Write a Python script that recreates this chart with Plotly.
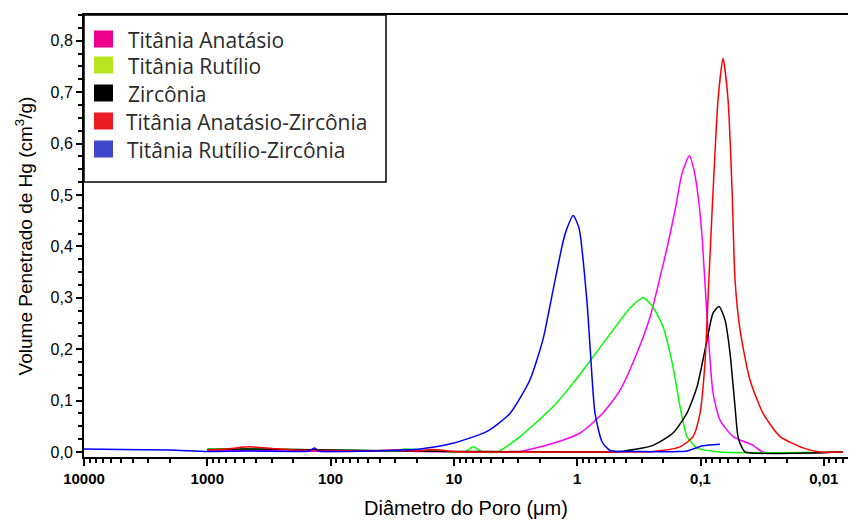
import plotly.graph_objects as go

# ---------------- data (diameter in µm, volume in cm3/g) ----------------
anat_d = [1000, 500, 200, 100, 50, 30, 20, 10, 4.47, 2.91, 1.57, 0.948, 0.618, 0.45, 0.327,
          0.257, 0.2104, 0.1836, 0.158, 0.142, 0.1233, 0.1122, 0.1022, 0.0967, 0.0931, 0.0881,
          0.0792, 0.0695, 0.0544, 0.0375, 0.0311, 0.007]
anat_v = [0.002, 0.003, 0.002, 0.001, 0.002, 0.003, 0.001, 0.0, 0.0, 0.001, 0.017, 0.037, 0.076,
          0.12, 0.193, 0.262, 0.345, 0.405, 0.48, 0.54, 0.576, 0.545, 0.477, 0.412, 0.348,
          0.257, 0.115, 0.062, 0.03, 0.013, 0.0, 0.0]

rut_d = [1000, 500, 200, 100, 50, 30, 25, 18.8, 15, 8, 7.0, 6.0, 4.47, 2.91, 1.57, 1.08, 0.745,
         0.513, 0.373, 0.292, 0.243, 0.201, 0.167, 0.1466, 0.1286, 0.1067, 0.0695, 0.007]
rut_v = [0.006, 0.006, 0.005, 0.004, 0.003, 0.002, 0.006, 0.004, 0.002, 0.001, 0.01, 0.001, 0.0,
         0.03, 0.088, 0.134, 0.185, 0.237, 0.28, 0.30, 0.282, 0.243, 0.165, 0.088, 0.03, 0.008,
         0.0, 0.0]

zirc_d = [1000, 500, 200, 100, 50, 20, 10, 5, 1, 0.45, 0.243, 0.167, 0.1286, 0.1067, 0.0885,
          0.0792, 0.0708, 0.0633, 0.0577, 0.0525, 0.0497, 0.046, 0.0435, 0.007]
zirc_v = [0.005, 0.006, 0.005, 0.004, 0.003, 0.002, 0.001, 0.001, 0.0, 0.001, 0.013, 0.037, 0.076,
          0.127, 0.218, 0.27, 0.283, 0.257, 0.193, 0.088, 0.03, 0.008, 0.0, 0.0]

anz_d = [1000, 700, 451, 300, 200, 100, 50, 30, 20, 15, 10, 5, 1, 0.243, 0.1466, 0.115, 0.101,
         0.092, 0.0869, 0.0807, 0.0721, 0.0657, 0.0598, 0.0555, 0.0525, 0.0478, 0.0397, 0.0311,
         0.0226, 0.01475, 0.01074, 0.007]
anz_v = [0.004, 0.006, 0.01, 0.007, 0.004, 0.003, 0.002, 0.004, 0.002, 0.005, 0.001, 0.0, 0.0,
         0.001, 0.01, 0.03, 0.075, 0.173, 0.30, 0.465, 0.685, 0.766, 0.685, 0.51, 0.335, 0.237,
         0.14, 0.075, 0.03, 0.008, 0.0, 0.0]

rz_d = [10000, 5000, 2000, 1000, 500, 200, 150, 135, 125, 100, 50, 18.8, 10.2, 5.39, 3.51, 2.42,
        1.89, 1.57, 1.30, 1.21, 1.08, 0.966, 0.832, 0.787, 0.717, 0.629, 0.542, 0.3, 0.15,
        0.1286, 0.0955, 0.0695]
rz_v = [0.006, 0.005, 0.004, 0.001, 0.002, 0.001, 0.002, 0.008, 0.002, 0.001, 0.002, 0.006, 0.017,
        0.04, 0.075, 0.14, 0.22, 0.315, 0.41, 0.435, 0.46, 0.435, 0.29, 0.205, 0.075, 0.02, 0.003,
        0.001, 0.001, 0.002, 0.012, 0.015]

names = ["Titânia Anatásio", "Titânia Rutílio", "Zircônia",
         "Titânia Anatásio-Zircônia", "Titânia Rutílio-Zircônia"]
line_colors = ["#ff00ff", "#00ff00", "#000000", "#ff0000", "#0000ff"]
legend_colors = ["#ec008c", "#b8e31f", "#000000", "#ed1c24", "#3f48cc"]
series = [(anat_d, anat_v), (rut_d, rut_v), (zirc_d, zirc_v), (anz_d, anz_v), (rz_d, rz_v)]

# plot-area geometry (pixels) used to place the hand-drawn legend box
L, T, W, H = 84, 15, 764, 442


def px(x):
    return (x - L) / W


def py(y):
    return (T + H - y) / H


fig = go.Figure()
for (d, v), c, n in zip(series, line_colors, names):
    fig.add_trace(go.Scatter(x=d, y=v, mode="lines", name=n,
                             line=dict(color=c, width=1.5, shape="spline", smoothing=0.6),
                             showlegend=False))

shapes = [dict(type="rect", xref="paper", yref="paper", x0=0, x1=px(386), y0=py(182), y1=1,
               fillcolor="white", line=dict(color="black", width=1.5), layer="above")]
annotations = []
row_y = [39, 65, 93, 121, 149]
text_x = [126, 126, 126, 124, 125]
for n, c, ry, tx in zip(names, legend_colors, row_y, text_x):
    shapes.append(dict(type="rect", xref="paper", yref="paper", x0=px(94), x1=px(113),
                       y0=py(ry + 8.5), y1=py(ry - 8.5), fillcolor=c, line=dict(width=0),
                       layer="above"))
    annotations.append(dict(xref="paper", yref="paper", x=px(tx), y=py(ry + 1), text=n,
                            showarrow=False, xanchor="left", yanchor="middle",
                            font=dict(family="Open Sans", size=21, color="#2b2b2b")))

fig.update_layout(
    width=850, height=520,
    margin=dict(l=L, r=850 - L - W, t=T, b=520 - T - H),
    plot_bgcolor="white", paper_bgcolor="white",
    separators=", ",
    font=dict(family="Liberation Sans, Arial", color="black"),
    showlegend=False,
    shapes=shapes, annotations=annotations,
)
fig.update_xaxes(
    type="log", range=[4, -2.196], tickmode="linear", tick0=0, dtick=1, tickformat="~g",
    showgrid=False, zeroline=False, showline=True, linecolor="black", linewidth=2, mirror=True,
    ticks="outside", ticklen=7, tickwidth=2, tickcolor="black",
    tickfont=dict(size=15, weight="bold"),
    minor=dict(ticks="outside", ticklen=4, tickwidth=1.5, tickcolor="black", showgrid=False),
    title=dict(text="Diâmetro do Poro (μm)", font=dict(size=20), standoff=15),
)
fig.update_yaxes(
    range=[-0.0097, 0.85], tickmode="linear", tick0=0, dtick=0.1, tickformat=".1f",
    showgrid=False, zeroline=False, showline=True, linecolor="black", linewidth=2,
    ticks="outside", ticklen=6, tickwidth=2, tickcolor="black",
    tickfont=dict(size=16),
    minor=dict(dtick=0.025, ticks="outside", ticklen=4, tickwidth=1.5, tickcolor="black",
               showgrid=False),
    title=dict(text="Volume Penetrado de Hg (cm<sup>3</sup>/g)", font=dict(size=19), standoff=13),
)

fig.write_html("out.html")
